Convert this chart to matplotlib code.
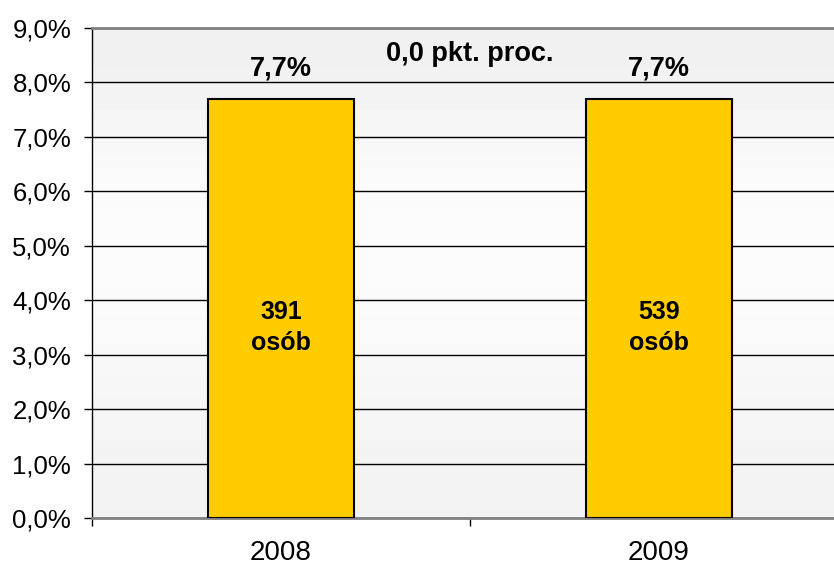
import numpy as np
import matplotlib.pyplot as plt
from matplotlib.ticker import FuncFormatter

plt.rcParams['font.family'] = ['Liberation Sans', 'DejaVu Sans']

years = ["2008", "2009"]
shares = [7.7, 7.7]
persons = [391, 539]
change_label = "0,0 pkt. proc."

fig = plt.figure(figsize=(8.34, 5.65), dpi=100)
ax = fig.add_axes([92 / 834, 47 / 565, 756 / 834, 490 / 565])

# light gray vertical gradient background
grad = np.array([0.95, 0.97, 0.99, 0.985, 0.94]).reshape(-1, 1)
ax.imshow(grad, cmap="gray", vmin=0, vmax=1, aspect="auto",
          extent=[-0.5, 1.5, 0, 9], origin="lower", zorder=0,
          interpolation="bicubic")

x = np.arange(len(years))
ax.bar(x, shares, width=0.386, color="#ffcc00", edgecolor="black",
       linewidth=1.5, zorder=3)

for xi, v, n in zip(x, shares, persons):
    ax.text(xi, v + 0.55, f"{v:.1f}%".replace(".", ","), ha="center",
            va="center", fontsize=19.5, fontweight="bold", zorder=4)
    ax.text(xi, 3.5, f"{n}\nosób", ha="center", va="center",
            fontsize=18, fontweight="bold", linespacing=1.35, zorder=4)

ax.text(0.5, 8.52, change_label, ha="center", va="center",
        fontsize=19.5, fontweight="bold", zorder=4)

ax.set_xlim(-0.5, 1.5)
ax.set_ylim(0, 9)
ax.set_yticks(np.arange(0, 10, 1))
ax.yaxis.set_major_formatter(FuncFormatter(lambda v, p: f"{v:.1f}%".replace(".", ",")))
ax.set_xticks(x)
ax.set_xticklabels(years)
ax.set_xticks([-0.5, 0.5, 1.5], minor=True)
ax.tick_params(axis="x", which="major", length=0, pad=16, labelsize=20)
ax.tick_params(axis="x", which="minor", length=6, width=1)
ax.tick_params(axis="y", length=6, width=1, labelsize=18.5, pad=9)

ax.grid(True, axis="y", color="black", linewidth=1, zorder=1)
ax.set_axisbelow(True)
for s in ["top", "bottom"]:
    ax.spines[s].set_color("#808080")
    ax.spines[s].set_linewidth(2)
ax.spines["right"].set_visible(False)
ax.spines["left"].set_color("black")
ax.spines["left"].set_linewidth(1)

fig.savefig("out.png", dpi=100)
